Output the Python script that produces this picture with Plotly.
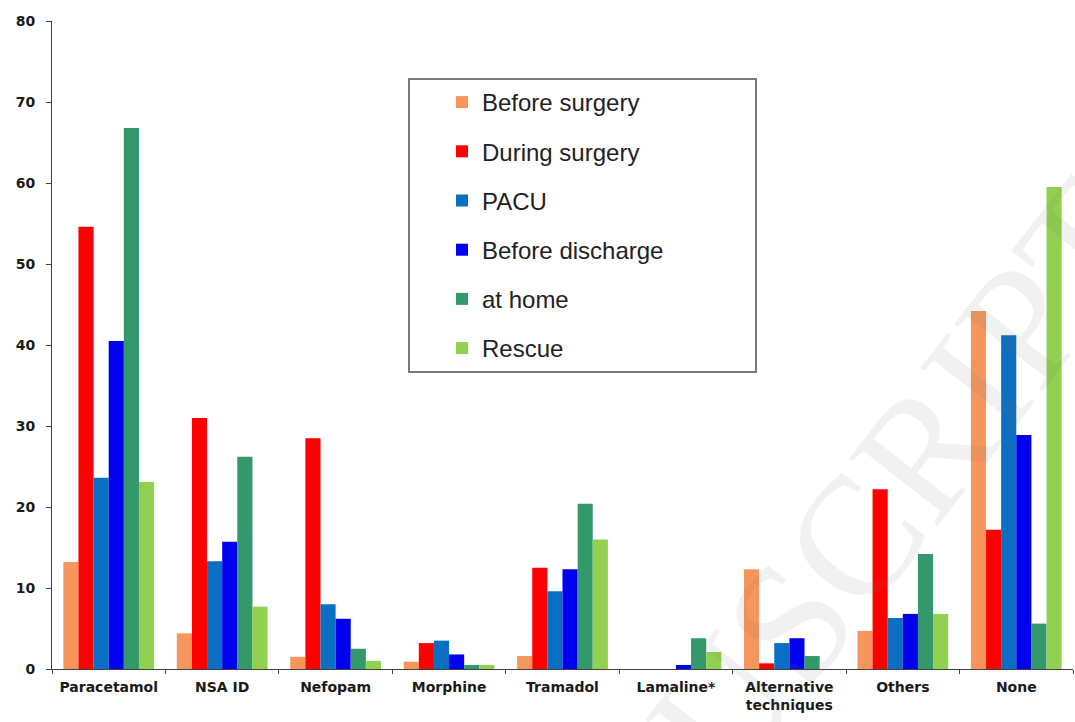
import plotly.graph_objects as go

# Analgesic use by period (% of patients)
categories = ["Paracetamol", "NSA ID", "Nefopam", "Morphine", "Tramadol",
              "Lamaline*", "Alternative<br>techniques", "Others", "None"]

before_surgery   = [13.2,  4.4,  1.5, 0.9,  1.6, 0.0, 12.3,  4.7, 44.2]
during_surgery   = [54.6, 31.0, 28.5, 3.2, 12.5, 0.0,  0.7, 22.2, 17.2]
pacu             = [23.6, 13.3,  8.0, 3.5,  9.6, 0.0,  3.2,  6.3, 41.2]
before_discharge = [40.5, 15.7,  6.2, 1.8, 12.3, 0.5,  3.8,  6.8, 28.9]
at_home          = [66.8, 26.2,  2.5, 0.5, 20.4, 3.8,  1.6, 14.2,  5.6]
rescue           = [23.1,  7.7,  1.0, 0.5, 16.0, 2.1,  0.0,  6.8, 59.5]

series_names = ["Before surgery", "During surgery", "PACU",
                "Before discharge", "at home", "Rescue"]
series_values = [before_surgery, during_surgery, pacu,
                 before_discharge, at_home, rescue]
series_colors = ["#F7965C", "#FF0000", "#0A6FC2", "#0000F0", "#33986A", "#92D050"]

y_ticks = [0, 10, 20, 30, 40, 50, 60, 70, 80]

W, H = 1075, 722
ML, MR, MT, MB = 52, 2, 21, 53
PW, PH = W - ML - MR, H - MT - MB


def px_x(x):
    return (x - ML) / PW


def px_y(y):
    return (H - MB - y) / PH


fig = go.Figure()
for i, (name, vals, col) in enumerate(zip(series_names, series_values, series_colors)):
    fig.add_trace(go.Bar(
        name=name, x=categories, y=vals,
        marker=dict(color=col, line=dict(width=0)),
        legendgroup=f"g{i}",
    ))

tick_font = dict(family="DejaVu Sans, Verdana, sans-serif", size=14,
                 color="#1a1a1a", weight="bold")

fig.update_layout(
    width=W, height=H,
    margin=dict(l=ML, r=MR, t=MT, b=MB, pad=0),
    paper_bgcolor="white", plot_bgcolor="white",
    barmode="group", bargap=0.2, bargroupgap=0,
    showlegend=True,
    legend=dict(
        x=px_x(442), y=px_y(80), xanchor="left", yanchor="top",
        font=dict(family="Liberation Sans, Arial, sans-serif", size=24, color="#222222"),
        bgcolor="rgba(0,0,0,0)", borderwidth=0,
        tracegroupgap=15,
    ),
    xaxis=dict(
        type="category", automargin=False, tickangle=0,
        showline=True, linecolor="#404040", linewidth=1,
        ticks="outside", tickson="boundaries", ticklen=4, tickcolor="#404040",
        tickfont=tick_font,
        showgrid=False, zeroline=False,
        ticklabelstandoff=5,
    ),
    yaxis=dict(
        range=[0, 80], tickvals=y_ticks, automargin=False,
        showline=True, linecolor="#404040", linewidth=1,
        ticks="outside", ticklen=5, tickcolor="#404040",
        tickfont=tick_font,
        showgrid=False, zeroline=False,
        ticklabelstandoff=8,
    ),
    shapes=[dict(
        type="rect", xref="paper", yref="paper",
        x0=px_x(409), x1=px_x(756), y0=px_y(372), y1=px_y(79),
        line=dict(color="#7a7a7a", width=2), fillcolor="rgba(0,0,0,0)",
        layer="above",
    )],
    annotations=[dict(
        text="ACCEPTED MANUSCRIPT",
        xref="paper", yref="paper",
        x=px_x(495), y=px_y(1000), xanchor="center", yanchor="middle",
        showarrow=False, textangle=-52,
        font=dict(family="Liberation Serif, Times New Roman, serif", size=170,
                  color="rgba(120,120,120,0.10)"),
    )],
)

fig.write_html("out.html")
